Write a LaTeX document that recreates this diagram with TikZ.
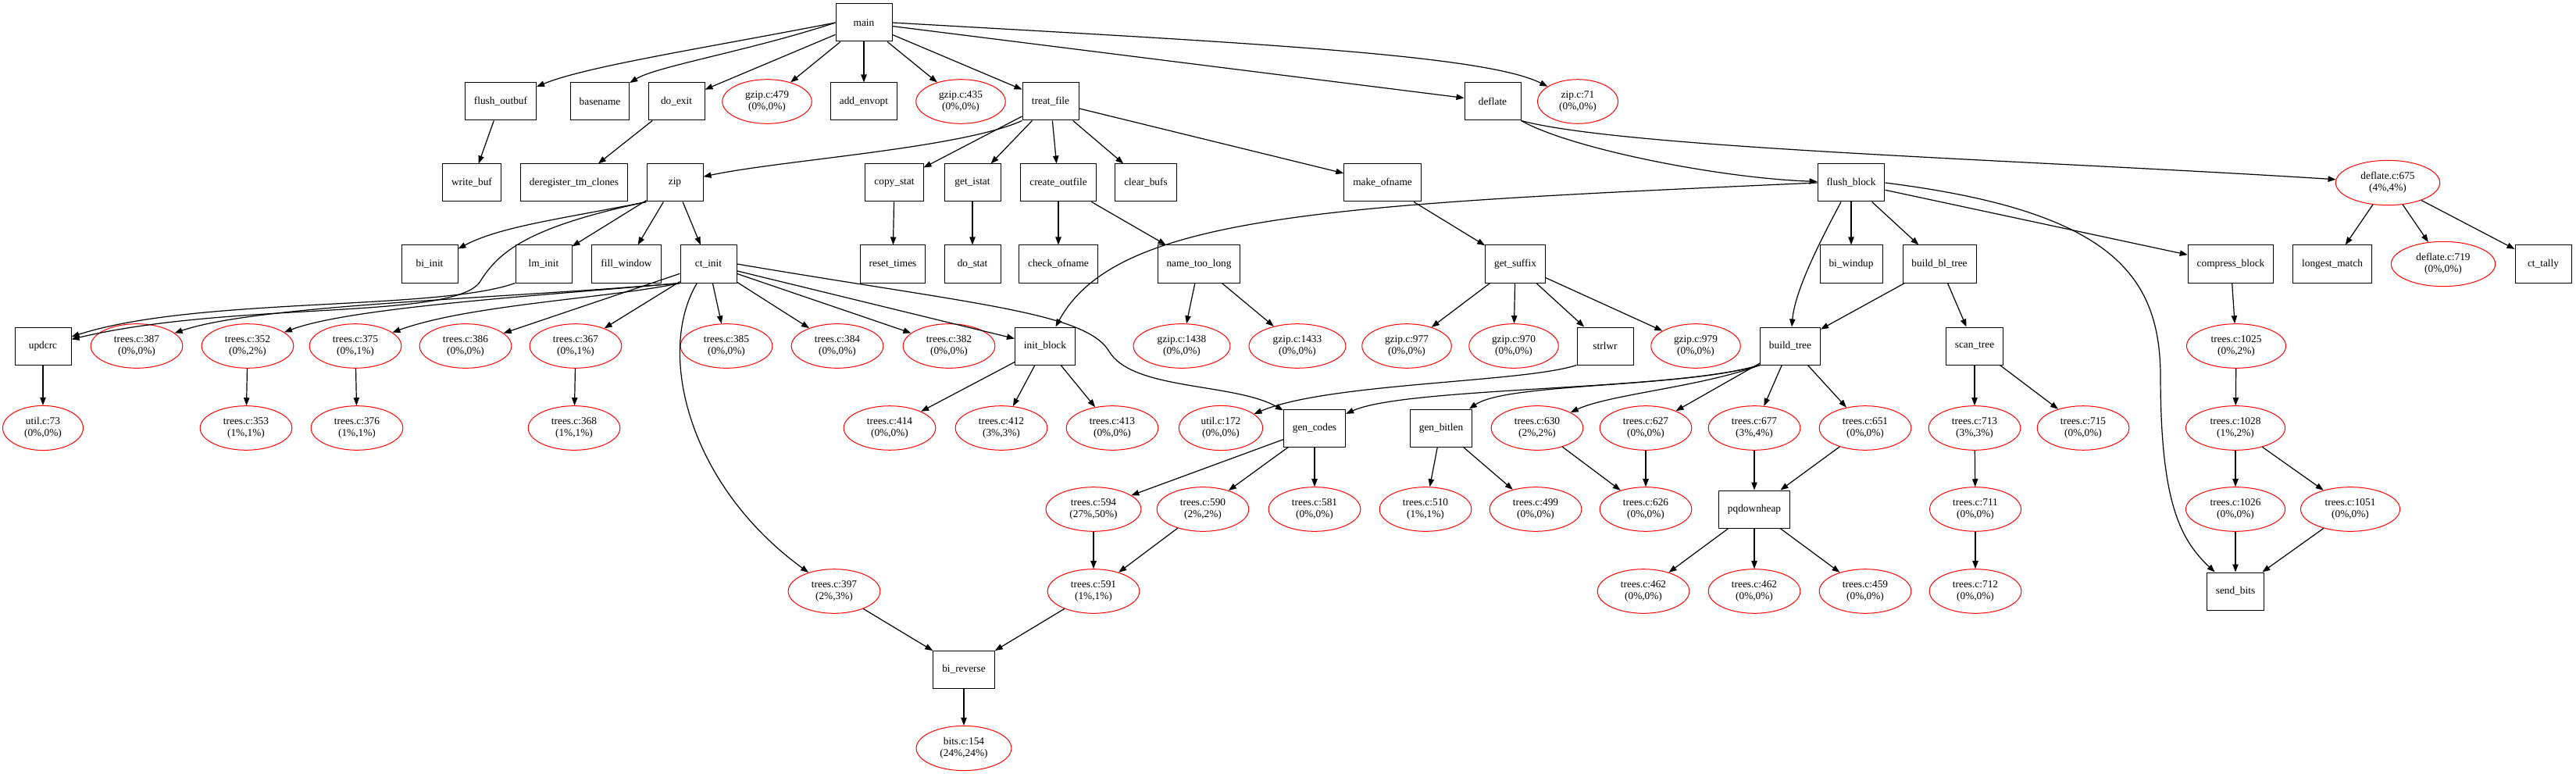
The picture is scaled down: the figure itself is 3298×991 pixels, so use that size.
\documentclass[tikz,border=0pt]{standalone}
\usepackage{fontspec}
\setmainfont{Liberation Serif}
\usetikzlibrary{arrows.meta,shapes.geometric}
\newcommand{\gvfont}{\fontsize{10}{11.25}\selectfont}
\tikzset{
  fn/.style={rectangle,draw=black,line width=0.75pt,minimum width=54pt,
             minimum height=36pt,inner xsep=8.6pt,font=\gvfont},
  ln/.style={ellipse,draw=red,line width=0.75pt,inner xsep=9.4pt,inner ysep=5pt,
             align=center,font=\gvfont},
  call/.style={-{Triangle[length=7.5pt,width=5.5pt]},draw=black,line width=0.9pt},
}

\begin{document}
\begin{tikzpicture}[x=0.75pt,y=-0.75pt]
  \useasboundingbox (0,0) rectangle (3298,991);
  % rank 0
  \node[fn] (main) at (1106,29) {main};
  % rank 1
  \node[fn] (flushoutbuf) at (641,130) {flush\_outbuf};
  \node[fn] (basename) at (768,130) {basename};
  \node[fn] (doexit) at (866,130) {do\_exit};
  \node[ln] (g479) at (982,130) {gzip.c:479\\(0\%,0\%)};
  \node[fn] (addenvopt) at (1106,130) {add\_envopt};
  \node[ln] (g435) at (1230,130) {gzip.c:435\\(0\%,0\%)};
  \node[fn] (treatfile) at (1345,130) {treat\_file};
  \node[fn] (deflate) at (1911,130) {deflate};
  \node[ln] (z71) at (2020,130) {zip.c:71\\(0\%,0\%)};
  % rank 2
  \node[fn] (writebuf) at (604,234) {write\_buf};
  \node[fn] (deregister) at (735,234) {deregister\_tm\_clones};
  \node[fn] (zip) at (864,234) {zip};
  \node[fn] (copystat) at (1145,234) {copy\_stat};
  \node[fn] (getistat) at (1245,234) {get\_istat};
  \node[fn] (createoutfile) at (1355,234) {create\_outfile};
  \node[fn] (clearbufs) at (1467,234) {clear\_bufs};
  \node[fn] (makeofname) at (1770,234) {make\_ofname};
  \node[fn] (flushblock) at (2370,234) {flush\_block};
  \node[ln] (d675) at (3057,234) {deflate.c:675\\(4\%,4\%)};
  % rank 3
  \node[fn] (biinit) at (550,338) {bi\_init};
  \node[fn] (lminit) at (696,338) {lm\_init};
  \node[fn] (fillwindow) at (802,338) {fill\_window};
  \node[fn] (ctinit) at (907,338) {ct\_init};
  \node[fn] (resettimes) at (1143,338) {reset\_times};
  \node[fn] (dostat) at (1245,338) {do\_stat};
  \node[fn] (checkofname) at (1355,338) {check\_ofname};
  \node[fn] (nametoolong) at (1535,338) {name\_too\_long};
  \node[fn] (getsuffix) at (1940,338) {get\_suffix};
  \node[fn] (biwindup) at (2370,338) {bi\_windup};
  \node[fn] (buildbltree) at (2483,338) {build\_bl\_tree};
  \node[fn] (compressblock) at (2856,338) {compress\_block};
  \node[fn] (longestmatch) at (2986,338) {longest\_match};
  \node[ln] (d719) at (3128,338) {deflate.c:719\\(0\%,0\%)};
  \node[fn] (cttally) at (3256,338) {ct\_tally};
  % rank 4
  \node[fn] (updcrc) at (55,443) {updcrc};
  \node[ln] (t387) at (175,443) {trees.c:387\\(0\%,0\%)};
  \node[ln] (t352) at (317,443) {trees.c:352\\(0\%,2\%)};
  \node[ln] (t375) at (455,443) {trees.c:375\\(0\%,1\%)};
  \node[ln] (t386) at (596,443) {trees.c:386\\(0\%,0\%)};
  \node[ln] (t367) at (737,443) {trees.c:367\\(0\%,1\%)};
  \node[ln] (t385) at (930,443) {trees.c:385\\(0\%,0\%)};
  \node[ln] (t384) at (1072,443) {trees.c:384\\(0\%,0\%)};
  \node[ln] (t382) at (1215,443) {trees.c:382\\(0\%,0\%)};
  \node[fn] (initblock) at (1338,443) {init\_block};
  \node[ln] (g1438) at (1513,443) {gzip.c:1438\\(0\%,0\%)};
  \node[ln] (g1433) at (1661,443) {gzip.c:1433\\(0\%,0\%)};
  \node[ln] (g977) at (1801,443) {gzip.c:977\\(0\%,0\%)};
  \node[ln] (g970) at (1938,443) {gzip.c:970\\(0\%,0\%)};
  \node[fn] (strlwr) at (2055,443) {strlwr};
  \node[ln] (g979) at (2171,443) {gzip.c:979\\(0\%,0\%)};
  \node[fn] (buildtree) at (2292,443) {build\_tree};
  \node[fn] (scantree) at (2528,443) {scan\_tree};
  \node[ln] (t1025) at (2863,443) {trees.c:1025\\(0\%,2\%)};
  % rank 5
  \node[ln] (u73) at (55,548) {util.c:73\\(0\%,0\%)};
  \node[ln] (t353) at (315,548) {trees.c:353\\(1\%,1\%)};
  \node[ln] (t376) at (457,548) {trees.c:376\\(1\%,1\%)};
  \node[ln] (t368) at (735,548) {trees.c:368\\(1\%,1\%)};
  \node[ln] (t414) at (1139,548) {trees.c:414\\(0\%,0\%)};
  \node[ln] (t412) at (1282,548) {trees.c:412\\(3\%,3\%)};
  \node[ln] (t413) at (1424,548) {trees.c:413\\(0\%,0\%)};
  \node[ln] (u172) at (1563,548) {util.c:172\\(0\%,0\%)};
  \node[fn] (gencodes) at (1683,548) {gen\_codes};
  \node[fn] (genbitlen) at (1845,548) {gen\_bitlen};
  \node[ln] (t630) at (1968,548) {trees.c:630\\(2\%,2\%)};
  \node[ln] (t627) at (2107,548) {trees.c:627\\(0\%,0\%)};
  \node[ln] (t677) at (2246,548) {trees.c:677\\(3\%,4\%)};
  \node[ln] (t651) at (2388,548) {trees.c:651\\(0\%,0\%)};
  \node[ln] (t713) at (2528,548) {trees.c:713\\(3\%,3\%)};
  \node[ln] (t715) at (2667,548) {trees.c:715\\(0\%,0\%)};
  \node[ln] (t1028) at (2862,548) {trees.c:1028\\(1\%,2\%)};
  % rank 6
  \node[ln] (t594) at (1400,652) {trees.c:594\\(27\%,50\%)};
  \node[ln] (t590) at (1540,652) {trees.c:590\\(2\%,2\%)};
  \node[ln] (t581) at (1683,652) {trees.c:581\\(0\%,0\%)};
  \node[ln] (t510) at (1825,652) {trees.c:510\\(1\%,1\%)};
  \node[ln] (t499) at (1966,652) {trees.c:499\\(0\%,0\%)};
  \node[ln] (t626) at (2107,652) {trees.c:626\\(0\%,0\%)};
  \node[fn] (pqdownheap) at (2246,652) {pqdownheap};
  \node[ln] (t711) at (2529,652) {trees.c:711\\(0\%,0\%)};
  \node[ln] (t1026) at (2862,652) {trees.c:1026\\(0\%,0\%)};
  \node[ln] (t1051) at (3009,652) {trees.c:1051\\(0\%,0\%)};
  % rank 7
  \node[ln] (t397) at (1068,757) {trees.c:397\\(2\%,3\%)};
  \node[ln] (t591) at (1400,757) {trees.c:591\\(1\%,1\%)};
  \node[ln] (t462a) at (2104,757) {trees.c:462\\(0\%,0\%)};
  \node[ln] (t462b) at (2246,757) {trees.c:462\\(0\%,0\%)};
  \node[ln] (t459) at (2388,757) {trees.c:459\\(0\%,0\%)};
  \node[ln] (t712) at (2529,757) {trees.c:712\\(0\%,0\%)};
  \node[fn] (sendbits) at (2862,757) {send\_bits};
  % rank 8, 9
  \node[fn] (bireverse) at (1234,857) {bi\_reverse};
  \node[ln] (b154) at (1234,958) {bits.c:154\\(24\%,24\%)};
  % straight calls
  \foreach \s/\t in {main/doexit,main/g479,main/addenvopt,main/g435,main/treatfile,main/deflate,
                     flushoutbuf/writebuf,doexit/deregister,treatfile/copystat,treatfile/getistat,
                     treatfile/createoutfile,treatfile/clearbufs,treatfile/makeofname,
                     copystat/resettimes,getistat/dostat,createoutfile/checkofname,
                     createoutfile/nametoolong,makeofname/getsuffix,
                     flushblock/biwindup,flushblock/buildbltree,flushblock/compressblock,
                     d675/longestmatch,d675/d719,d675/cttally,
                     zip/lminit,zip/fillwindow,zip/ctinit,
                     ctinit/t386,ctinit/t367,ctinit/t385,ctinit/t384,ctinit/t382,ctinit/initblock,
                     nametoolong/g1438,nametoolong/g1433,getsuffix/g977,getsuffix/g970,
                     getsuffix/strlwr,getsuffix/g979,buildbltree/buildtree,buildbltree/scantree,
                     compressblock/t1025,updcrc/u73,t352/t353,t375/t376,t367/t368,
                     initblock/t414,initblock/t412,initblock/t413,
                     buildtree/t627,buildtree/t677,buildtree/t651,scantree/t713,scantree/t715,
                     t1025/t1028,gencodes/t594,gencodes/t590,gencodes/t581,genbitlen/t510,
                     genbitlen/t499,t630/t626,t627/t626,t677/pqdownheap,t651/pqdownheap,
                     t713/t711,t1028/t1026,t1028/t1051,t594/t591,t590/t591,t711/t712,
                     pqdownheap/t462a,pqdownheap/t462b,pqdownheap/t459,
                     t1026/sendbits,t1051/sendbits,t397/bireverse,t591/bireverse,bireverse/b154}
    {\draw[call] (\s) -- (\t);}
  % bent calls
  \draw[call] (main.west) .. controls (900,62) and (750,85) .. (flushoutbuf);
  \draw[call] (main.west) .. controls (960,65) and (840,85) .. (basename);
  \draw[call] (main.east) .. controls (1600,55) and (1900,70) .. (z71);
  \draw[call] (treatfile.south west) .. controls (1230,190) and (1000,205) .. (zip);
  \draw[call] (deflate.south east) .. controls (2010,190) and (2200,228) .. (flushblock);
  \draw[call] (deflate.south east) .. controls (2080,190) and (2600,205) .. (d675);
  \draw[call] (flushblock.west) .. controls (1700,262) and (1430,275) .. (initblock);
  \draw[call] (flushblock) .. controls (2335,300) and (2298,370) .. (buildtree);
  \draw[call] (flushblock.east) .. controls (2700,270) and (2765,350) .. (2766,480)
    .. controls (2766,640) and (2790,690) .. (sendbits);
  \draw[call] (zip.south west) .. controls (720,280) and (640,290) .. (biinit);
  \draw[call] (zip.south west) .. controls (680,290) and (640,320) .. (615,360)
    .. controls (585,410) and (300,385) .. (updcrc);
  \draw[call] (lminit.south west) .. controls (560,398) and (250,380) .. (updcrc);
  \draw[call] (ctinit.south west) .. controls (650,382) and (330,390) .. (t387);
  \draw[call] (ctinit.south west) .. controls (700,378) and (450,393) .. (t352);
  \draw[call] (ctinit.south west) .. controls (780,382) and (600,390) .. (t375);
  \draw[call] (ctinit.east) .. controls (1250,390) and (1390,400) .. (1420,450)
    .. controls (1450,500) and (1580,490) .. (gencodes);
  \draw[call] (ctinit) .. controls (840,450) and (880,620) .. (t397);
  \draw[call] (buildtree.south west) .. controls (2150,500) and (1800,495) .. (gencodes);
  \draw[call] (buildtree.south west) .. controls (2150,497) and (1930,490) .. (genbitlen);
  \draw[call] (buildtree.south west) .. controls (2180,495) and (2060,505) .. (t630);
  \draw[call] (strlwr.south west) .. controls (1950,490) and (1700,490) .. (u172);
\end{tikzpicture}
\end{document}
